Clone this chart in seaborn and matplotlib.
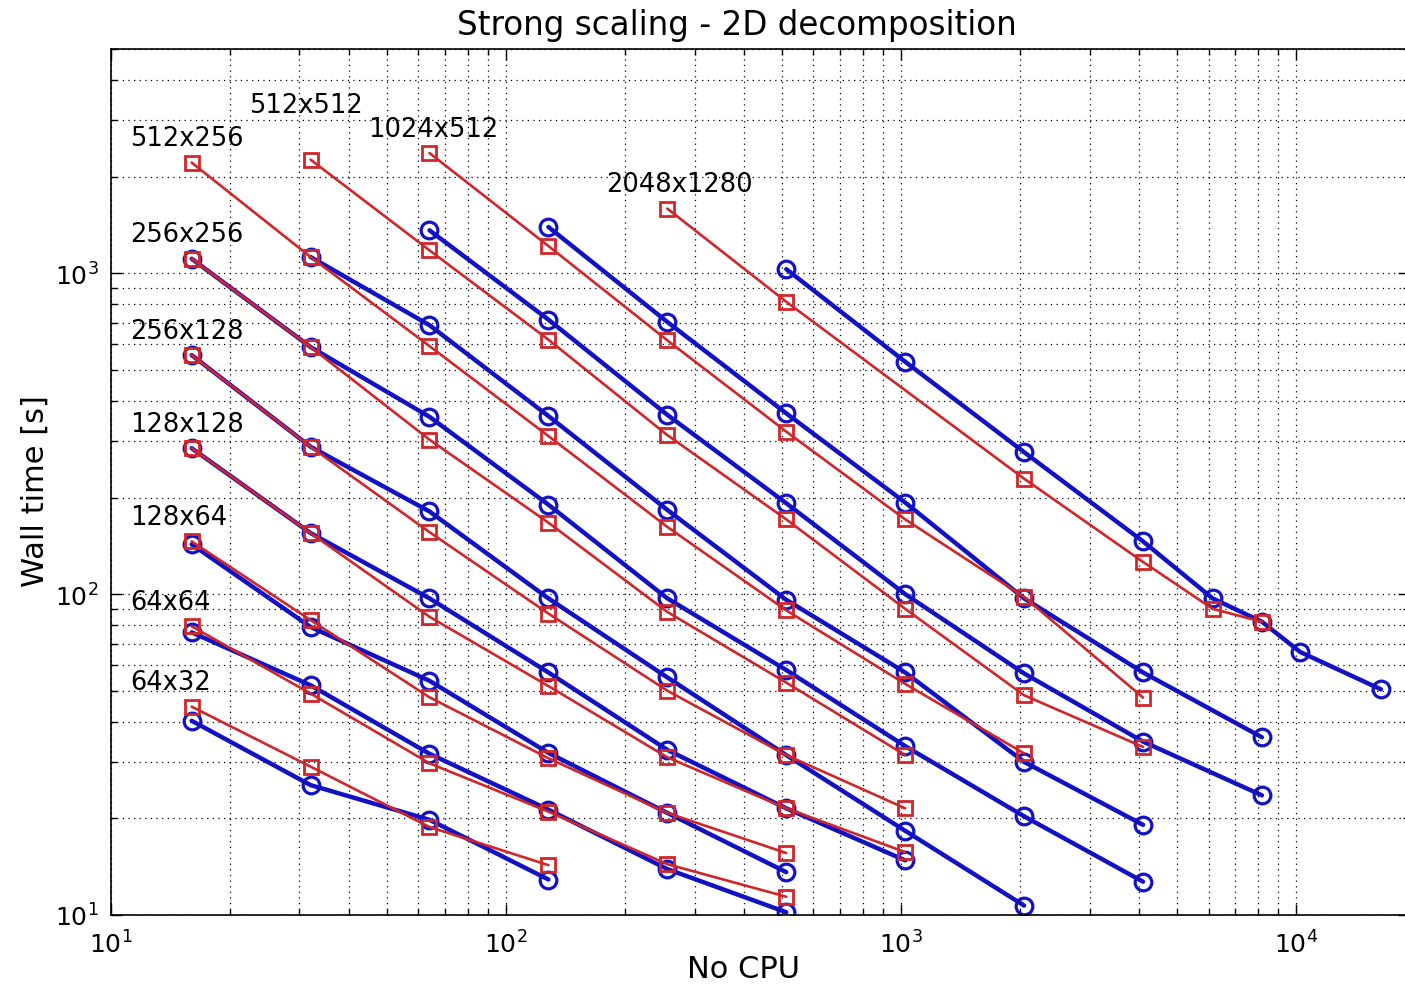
import matplotlib
matplotlib.use("Agg")
import matplotlib.pyplot as plt
import seaborn as sns
from matplotlib.ticker import LogLocator, NullFormatter

# grid sizes (one blue and one red run for each)
grids = ["2048x1280", "1024x512", "512x512", "512x256", "256x256",
         "256x128", "128x128", "128x64", "64x64", "64x32"]

# blue circles
blue_cpus = [
    [512, 1024, 2048, 4096, 6144, 8192, 10240, 16384],
    [128, 256, 512, 1024, 2048, 4096, 8192],
    [64, 128, 256, 512, 1024, 2048, 4096, 8192],
    [32, 64, 128, 256, 512, 1024, 2048, 4096],
    [16, 32, 64, 128, 256, 512, 1024, 2048, 4096],
    [16, 32, 64, 128, 256, 512, 1024, 2048],
    [16, 32, 64, 128, 256, 512, 1024],
    [16, 32, 64, 128, 256, 512],
    [16, 32, 64, 128, 256, 512],
    [16, 32, 64, 128],
]
blue_times = [
    [1030, 530, 277, 146, 97, 82, 66, 50.5],
    [1394, 705, 366, 193, 97, 57, 35.8],
    [1361, 717, 362, 192, 100, 56.6, 34.7, 23.6],
    [1124, 689, 359, 183, 96, 57, 30, 19.1],
    [1110, 589, 357, 190, 97, 58, 33.6, 20.3, 12.7],
    [556, 288, 181, 97, 55, 31.5, 18.3, 10.7],
    [285, 155, 97, 57, 32.7, 21.5, 14.8],
    [143, 79, 53.7, 32, 20.8, 13.6],
    [76, 52, 31.8, 21.3, 13.9, 10.2],
    [40.3, 25.4, 19.8, 12.9],
]

# red squares
red_cpus = [
    [256, 512, 2048, 4096, 6144, 8192],
    [64, 128, 256, 512, 1024, 2048, 4096],
    [32, 64, 128, 256, 512, 1024, 2048, 4096],
    [16, 32, 64, 128, 256, 512, 1024, 2048],
    [16, 32, 64, 128, 256, 512, 1024],
    [16, 32, 64, 128, 256, 512, 1024],
    [16, 32, 64, 128, 256, 512, 1024],
    [16, 32, 64, 128, 256, 512],
    [16, 32, 64, 128, 256, 512],
    [16, 32, 64, 128],
]
red_times = [
    [1590, 815, 229, 126, 90, 82],
    [2370, 1216, 618, 321, 171, 98, 47.6],
    [2260, 1179, 621, 313, 171, 90, 48.4, 33.4],
    [2213, 1124, 593, 311, 162, 89, 52.5, 31.9],
    [1110, 589, 303, 167, 88, 53, 31.5],
    [556, 288, 156, 87, 50, 31.5, 21.5],
    [285, 155, 85, 51.7, 31, 21.5, 15.7],
    [146, 83, 47.7, 30.8, 20.8, 15.6],
    [79.4, 49, 29.7, 21, 14.4, 11.4],
    [44.6, 29, 18.8, 14.3],
]

BLUE = "#1212c4"
RED = "#d0262a"

sns.set_theme(style="ticks")
plt.rcParams["font.family"] = ["DejaVu Sans"]
plt.rcParams["mathtext.fontset"] = "dejavusans"
plt.rcParams["text.color"] = "black"
plt.rcParams["axes.labelcolor"] = "black"
plt.rcParams["xtick.color"] = "black"
plt.rcParams["ytick.color"] = "black"

fig = plt.figure(figsize=(14.05, 9.87), dpi=100)
# right edge sits just past the picture, as in the original crop
ax = fig.add_axes([111 / 1405, 71 / 987, 1298 / 1405, 866 / 987])
ax.set_xscale("log")
ax.set_yscale("log")

# blue runs first, red drawn on top
for cpus, times in zip(blue_cpus, blue_times):
    sns.lineplot(x=cpus, y=times, ax=ax, color=BLUE, linewidth=3.2,
                 marker="o", markersize=12, markeredgecolor=BLUE,
                 markerfacecolor="none", markeredgewidth=2.3,
                 estimator=None, sort=False)

for cpus, times in zip(red_cpus, red_times):
    sns.lineplot(x=cpus, y=times, ax=ax, color=RED, linewidth=1.9,
                 marker="s", markersize=10, markeredgecolor=RED,
                 markerfacecolor="none", markeredgewidth=2.0,
                 estimator=None, sort=False)

# grid size labels above the first red point
for name, cpus, times in zip(grids, red_cpus, red_times):
    dy = 34 if name == "512x512" else 12.5
    ax.annotate(name, xy=(cpus[0], times[0]), xytext=(-44, dy),
                textcoords="offset points", ha="left", va="baseline",
                fontsize=18.5, color="black")

ax.set_xlim(10, 1.93e4)
ax.set_ylim(10, 5000)

ax.xaxis.set_major_locator(LogLocator(base=10, numticks=10))
ax.yaxis.set_major_locator(LogLocator(base=10, numticks=10))
ax.xaxis.set_minor_locator(LogLocator(base=10, subs=range(2, 10), numticks=50))
ax.yaxis.set_minor_locator(LogLocator(base=10, subs=range(2, 10), numticks=50))
ax.xaxis.set_minor_formatter(NullFormatter())
ax.yaxis.set_minor_formatter(NullFormatter())

ax.grid(True, which="both", linestyle=(0, (1, 3.5)), color="black", linewidth=0.9)
ax.tick_params(which="both", direction="in", top=True, right=True,
               color="black", width=1.0)
ax.tick_params(which="major", length=8, labelsize=18)
ax.tick_params(axis="x", which="major", pad=11)
ax.tick_params(axis="y", which="major", pad=9)
ax.tick_params(which="minor", length=4)
for side in ax.spines.values():
    side.set_color("black")
    side.set_linewidth(1.2)

ax.set_title("Strong scaling - 2D decomposition", fontsize=23.5, x=0.482, pad=11)
ax.set_xlabel("No CPU", fontsize=22)
ax.set_ylabel("Wall time [s]", fontsize=22)
ax.xaxis.set_label_coords(0.4876, -0.045)
ax.yaxis.set_label_coords(-0.047, 0.491)

fig.savefig("out.png", dpi=100)
